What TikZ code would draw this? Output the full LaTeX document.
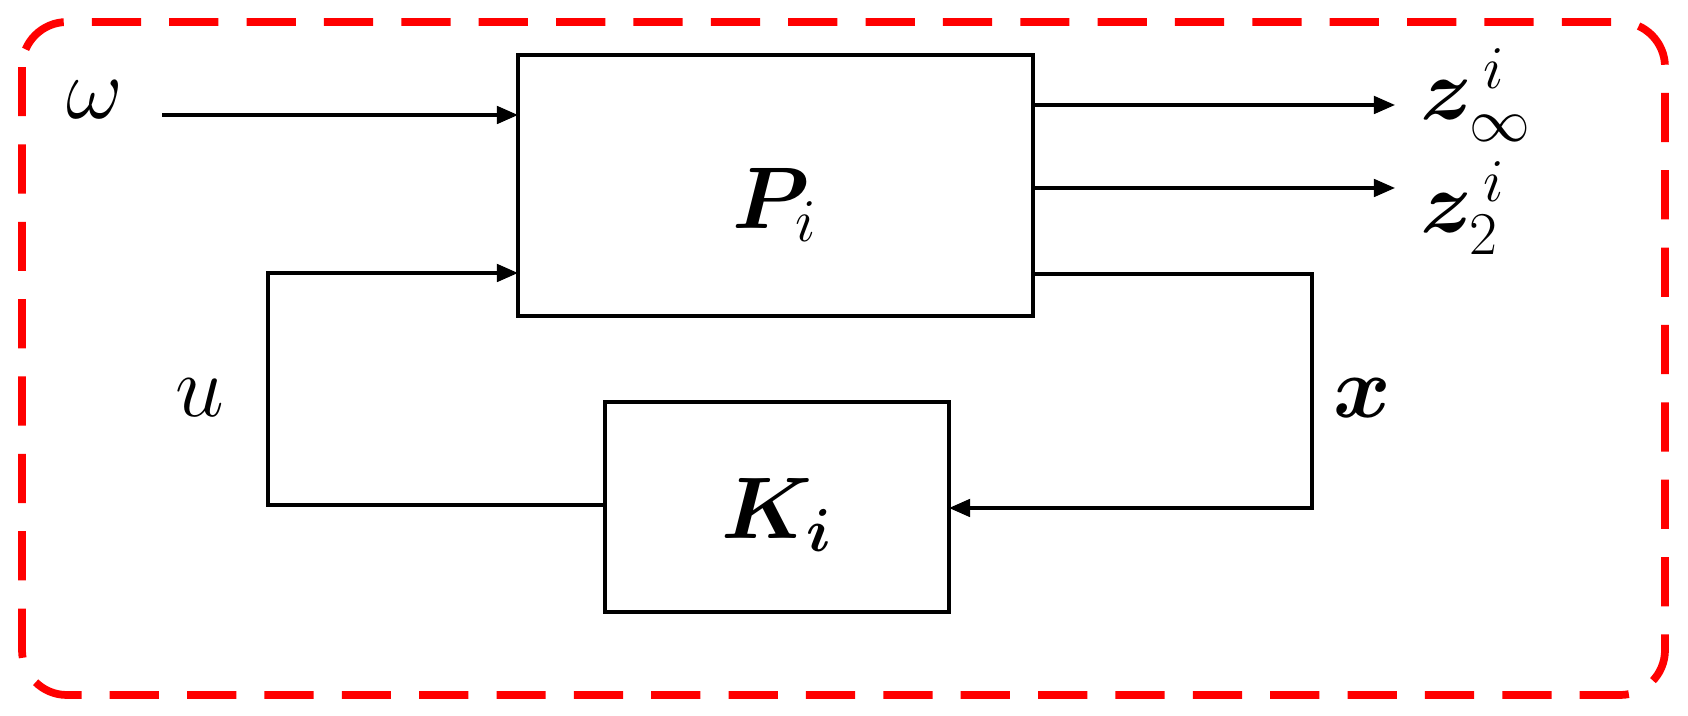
\documentclass[tikz,border=0pt]{standalone}
\usepackage{bm}
\usetikzlibrary{arrows.meta}
\begin{document}
\begin{tikzpicture}[x=0.01cm,y=-0.01cm,
  sig/.style={line width=0.9pt,-{Triangle[length=6pt,width=5pt]}},
  lbl/.style={font=\fontsize{26}{30}\selectfont}]
\useasboundingbox (0,0) rectangle (1688,716);
\draw[red,line width=2.2pt,dash pattern=on 14pt off 8pt,rounded corners=0.45cm] (22,22) rectangle (1665,695);
\draw[line width=0.9pt] (518,55) rectangle (1033,316);
\node[lbl] (Pl) at (775,205) {$\bm{P}_{i}$};
\draw[line width=0.9pt] (605,402) rectangle (949,612);
\node[lbl] (Kl) at (777,515) {$\bm{K}_{\bm{i}}$};
\coordinate (win) at (162,115); \coordinate (Pw) at (518,115);
\node[lbl] (w) at (95,100) {$\omega$};
\draw[sig] (win) -- (Pw);
\coordinate (Pz1) at (1033,105); \coordinate (z1e) at (1395,105);
\coordinate (Pz2) at (1033,188); \coordinate (z2e) at (1395,188);
\draw[sig] (Pz1) -- (z1e);
\draw[sig] (Pz2) -- (z2e);
\node[lbl,anchor=west,inner sep=0] (z1) at (1420,95) {$\bm{z}_{\infty}^{\,i}$};
\node[lbl,anchor=west,inner sep=0] (z2) at (1420,208) {$\bm{z}_{2}^{\,i}$};
\coordinate (Px) at (1033,274); \coordinate (Kx) at (949,508);
\draw[sig] (Px) -- (1312,274) -- (1312,508) -- (Kx);
\coordinate (Ku) at (605,505); \coordinate (Pu) at (518,273);
\draw[sig] (Ku) -- (268,505) -- (268,273) -- (Pu);
\node[lbl] (u) at (200,398) {$u$};
\node[lbl] (x) at (1362,398) {$\bm{x}$};
\end{tikzpicture}
\end{document}
